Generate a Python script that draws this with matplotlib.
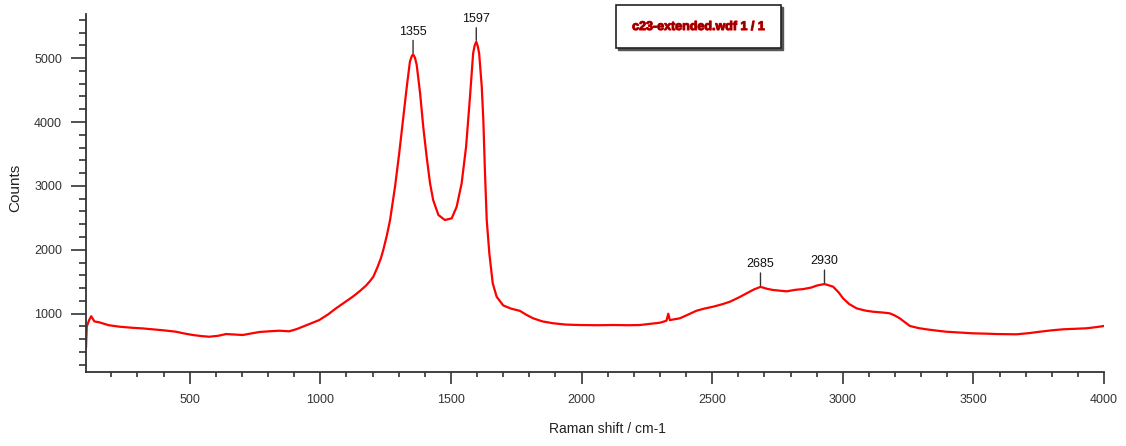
import numpy as np
import matplotlib
matplotlib.use("Agg")
import matplotlib.pyplot as plt
from matplotlib.patches import Rectangle
from matplotlib.ticker import MultipleLocator
import matplotlib.patheffects as pe

plt.rcParams['font.family'] = ['Liberation Sans', 'DejaVu Sans']

# ---- data ----
raman_shift = [103, 106, 115, 123, 135, 154, 190, 231, 280, 320, 359, 400, 448, 480, 512,
               545, 575, 610, 639, 670, 703, 735, 767, 805, 843, 881, 910, 933, 965, 996,
               1030, 1060, 1090, 1124, 1150, 1175, 1190, 1203, 1220, 1232, 1241, 1255, 1267,
               1286, 1302, 1318, 1331, 1343, 1350, 1355, 1362, 1369, 1382, 1394, 1407, 1420,
               1432, 1452, 1477, 1503, 1522, 1541, 1558, 1573, 1585, 1591, 1597, 1603, 1608,
               1618, 1624, 1630, 1637, 1647, 1660, 1675, 1700, 1730, 1764, 1790, 1815, 1850,
               1892, 1940, 1994, 2060, 2121, 2180, 2223, 2260, 2300, 2325, 2332, 2338, 2376,
               2410, 2440, 2470, 2504, 2540, 2568, 2600, 2632, 2660, 2685, 2710, 2734, 2760,
               2785, 2820, 2848, 2880, 2900, 2930, 2963, 2985, 3001, 3025, 3053, 3085, 3116,
               3150, 3180, 3200, 3218, 3240, 3257, 3290, 3320, 3360, 3397, 3450, 3499, 3550,
               3588, 3630, 3665, 3710, 3754, 3800, 3843, 3890, 3933, 3970, 4000]
counts = [470, 800, 900, 960, 880, 865, 820, 797, 780, 770, 756, 740, 718, 690, 667,
          650, 640, 655, 682, 675, 667, 690, 714, 725, 734, 725, 760, 797, 850, 901,
          990, 1084, 1170, 1266, 1350, 1440, 1510, 1579, 1740, 1870, 1997, 2230, 2466,
          2988, 3510, 4083, 4552, 4944, 5030, 5060, 5010, 4892, 4449, 3926, 3457, 3041,
          2779, 2545, 2466, 2493, 2675, 3041, 3613, 4396, 5075, 5200, 5257, 5180, 5075,
          4552, 4031, 3249, 2466, 1945, 1476, 1266, 1130, 1080, 1045, 980, 928, 880,
          850, 830, 823, 820, 823, 820, 823, 840, 859, 890, 1000, 900, 928,
          990, 1047, 1080, 1110, 1150, 1188, 1250, 1319, 1380, 1420, 1390, 1371, 1360,
          1350, 1375, 1385, 1410, 1440, 1465, 1423, 1330, 1241, 1150, 1084, 1050, 1031,
          1020, 1006, 970, 928, 860, 808, 775, 756, 735, 718, 705, 693, 688,
          682, 680, 678, 695, 718, 740, 756, 765, 772, 790, 808]
peak_labels = [1355, 1597, 2685, 2930]
title_text = "c23-extended.wdf 1 / 1"

W, H = 1126, 446
fig = plt.figure(figsize=(W / 100, H / 100), dpi=100)
ax = fig.add_axes([86 / W, 1 - 372 / H, (1104 - 86) / W, (372 - 14) / H])

ax.plot(raman_shift, counts, color='#ff0000', lw=1.6)

ax.set_xlim(103, 4000)
ax.set_ylim(88, 5690)

for s in ['top', 'right']:
    ax.spines[s].set_visible(False)
for s in ['left', 'bottom']:
    ax.spines[s].set_color('#333333')
    ax.spines[s].set_linewidth(1.3)

ax.xaxis.set_major_locator(MultipleLocator(500))
ax.xaxis.set_minor_locator(MultipleLocator(100))
ax.yaxis.set_major_locator(MultipleLocator(1000))
ax.yaxis.set_minor_locator(MultipleLocator(200))
ax.tick_params(axis='x', which='major', direction='out', length=8.6, width=1.2,
               color='#333333', labelsize=9, pad=7, labelcolor='#333333')
ax.tick_params(axis='x', which='minor', direction='out', length=3.6, width=1.2, color='#333333')
ax.tick_params(axis='y', which='major', direction='out', length=10.8, width=1.2,
               color='#333333', labelsize=9, pad=6.5, labelcolor='#333333')
ax.tick_params(axis='y', which='minor', direction='out', length=5, width=1.2, color='#333333')

ax.set_xlabel("Raman shift / cm-1", fontsize=10, color='#222222')
ax.xaxis.set_label_coords((607 - 86) / (1104 - 86), -(422 - 372) / (372 - 14))
ax.set_ylabel("Counts", fontsize=11, color='#222222')
ax.yaxis.set_label_coords(-(86 - 22) / (1104 - 86), (372 - 188) / (372 - 14))

for p in peak_labels:
    yv = np.interp(p, raman_shift, counts)
    ax.annotate(str(p), xy=(p, yv), xytext=(0, 12), textcoords='offset points',
                ha='center', va='bottom', fontsize=9, color='#111111',
                arrowprops=dict(arrowstyle='-', color='#333333', lw=1,
                                shrinkA=0, shrinkB=1))

# title box with shadow
bx0, bx1, by0, by1 = 616, 781, 5, 48
fig.patches.append(Rectangle(((bx0 + 2) / W, 1 - (by1 + 2) / H), (bx1 - bx0) / W,
                             (by1 - by0) / H, transform=fig.transFigure,
                             facecolor='#555555', edgecolor='#555555', lw=1))
fig.patches.append(Rectangle((bx0 / W, 1 - by1 / H), (bx1 - bx0) / W,
                             (by1 - by0) / H, transform=fig.transFigure,
                             facecolor='white', edgecolor='#222222', lw=1.2))
fig.text((bx0 + bx1) / 2 / W, 1 - 27 / H, title_text, ha='center', va='center',
         fontsize=9, fontweight='bold', color='#8b0000',
         path_effects=[pe.withStroke(linewidth=0.8, foreground='#dd0000')])

fig.savefig("out.png", dpi=100)
